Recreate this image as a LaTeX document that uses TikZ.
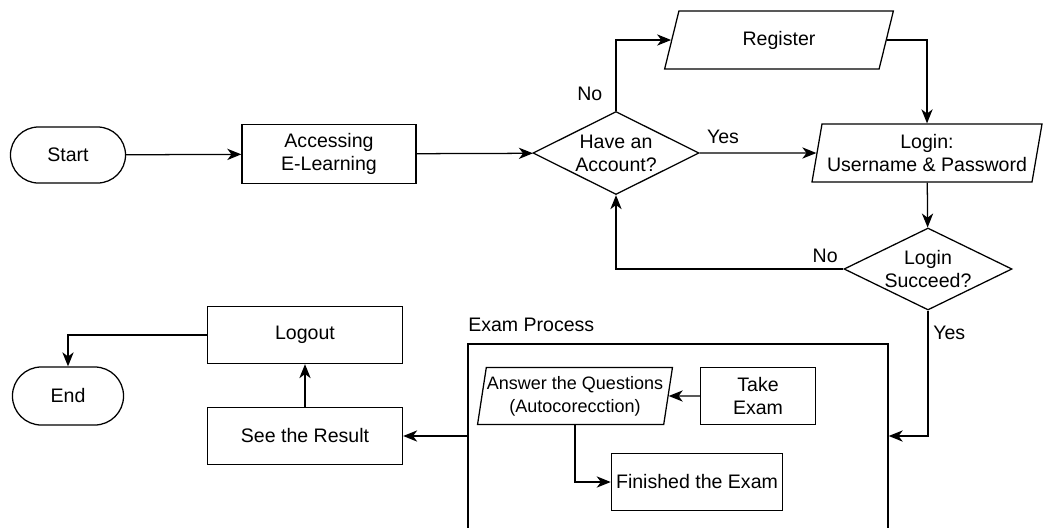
\documentclass[tikz,border=0pt]{standalone}
\usepackage{fontspec}
\setmainfont{Liberation Sans}
\usetikzlibrary{arrows.meta}
\usetikzlibrary{shapes.geometric}
\begin{document}
\begin{tikzpicture}[x=0.025cm,y=-0.025cm]
\tikzstyle{terminal}=[rectangle,rounded corners=0.7cm,draw,line width=0.9pt,align=center,minimum width=2.875cm,minimum height=1.4cm]
\tikzstyle{process}=[rectangle,draw,line width=0.9pt,align=center,minimum height=1.425cm]
\tikzstyle{io}=[trapezium,trapezium left angle=78,trapezium right angle=102,trapezium stretches=true,draw,line width=0.9pt,align=center,minimum height=1.45cm]
\tikzstyle{decision}=[diamond,aspect=2,draw,line width=0.9pt,align=center,inner sep=0pt,minimum width=4.15cm,minimum height=2.075cm]
\tikzstyle{groupe}=[rectangle,draw,line width=0.9pt,minimum width=10.5cm,minimum height=5.05cm]
\tikzset{every node/.style={font=\fontsize{13.9}{16.5}\selectfont}}
\useasboundingbox (0,0) rectangle (1059,527);

\node[terminal] (start) at (68,155) {Start};
\node[process,minimum width=4.35cm,minimum height=1.475cm] (access) at (329,154) {Accessing\\E-Learning};
\node[decision] (have) at (616,153) {Have an\\Account?};
\node[io,minimum width=5.75cm] (register) at (779,40) {Register};
\node[io,minimum width=5.75cm] (login) at (927,153) {Login:\\Username \& Password};
\node[decision,minimum width=4.2cm,minimum height=2.05cm] (succ) at (928,269) {Login\\Succeed?};

\node[groupe] (exam) at (678,445) {};
\node[anchor=base west,inner sep=0pt] (examlbl) at (468,331) {Exam Process};
\node[io,minimum width=4.875cm,minimum height=1.425cm,inner xsep=0pt,trapezium left angle=80,trapezium right angle=100,font=\fontsize{12.8}{16.5}\selectfont] (answer) at (575,396) {Answer the Questions\\(Autocorecction)};
\node[process,minimum width=2.875cm] (take) at (758,396) {Take\\Exam};
\node[process,minimum width=4.275cm] (finish) at (697,482) {Finished the Exam};

\node[process,minimum width=4.875cm] (logout) at (305,335) {Logout};
\node[process,minimum width=4.875cm] (result) at (305,436) {See the Result};
\node[terminal,minimum width=2.775cm,minimum height=1.45cm,rounded corners=0.72cm] (end) at (68,396) {End};

\tikzstyle{suite}=[-{Stealth[length=10pt,width=8pt,inset=3pt]},line width=0.9pt]
\draw[suite] (start) -- (access);
\draw[suite] (access) -- (have);
\draw[suite] (have.north) |- node[pos=0.12,left,xshift=-6pt] {No} (register);
\draw[suite] (have) -- node[pos=0.2,above,yshift=3pt] {Yes} (login);
\draw[suite] (register) -| (login);
\draw[suite] (login) -- (succ);
\draw[suite] (succ) -| node[pos=0.04,above,yshift=1pt] {No} (have);
\draw[suite] (succ) |- node[pos=0.09,right] {Yes} (exam.east |- result);
\draw[suite] (exam.west |- result) -- (result);
\draw[suite] (take) -- (answer);
\draw[suite] (answer) |- (finish);
\draw[suite] (result) -- (logout);
\draw[suite] (logout) -| (end);

\end{tikzpicture}
\end{document}
